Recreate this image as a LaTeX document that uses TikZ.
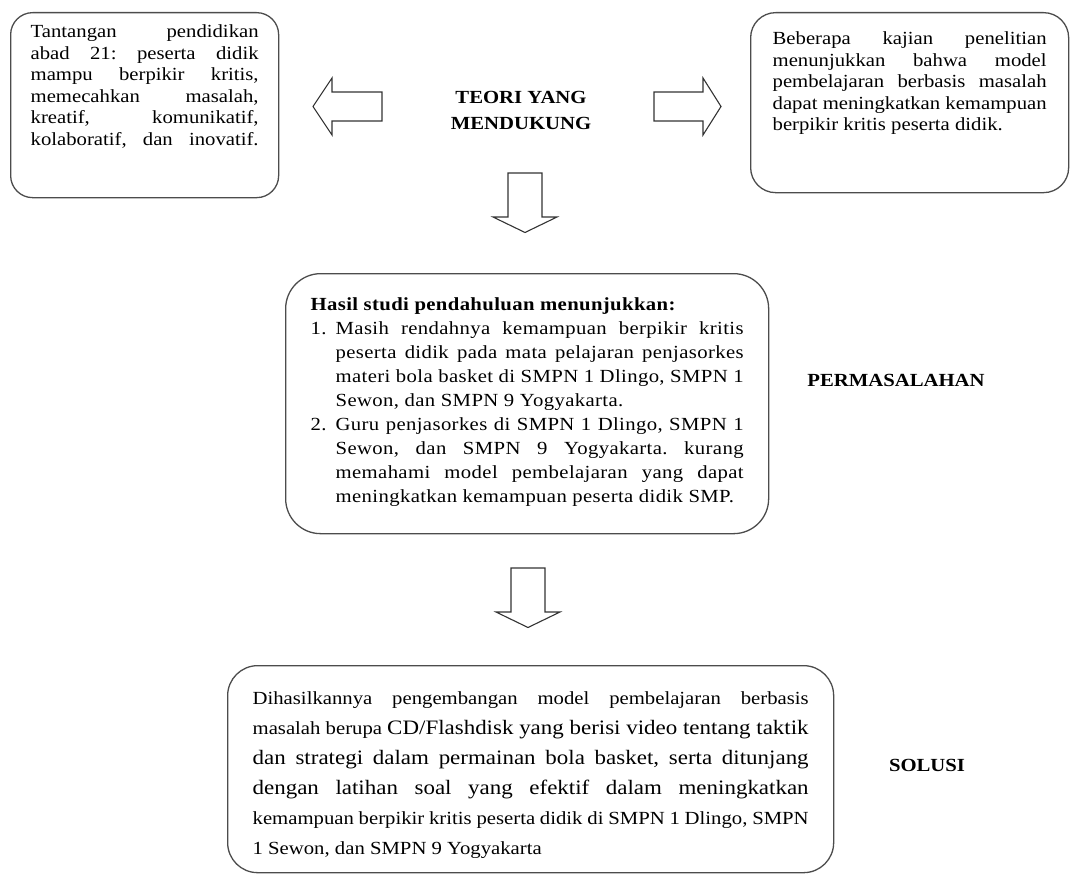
\documentclass[tikz,border=0pt]{standalone}
\usepackage{fontspec}
\setmainfont{Liberation Serif}[FakeStretch=1.12]
\frenchspacing
\hbadness=10000
\hfuzz=2pt
\newcommand{\besar}{\fontsize{20.5}{30}\selectfont}
\newcommand{\panahkiri}[2]{
	(#1, #2) --
	++(-50, 0) --
	++(0, -14) --
	++(-19, 28.5) --
	++(19, 28.5) --
	++(0, -14) --
	++(50, 0) --
	cycle
	}
\newcommand{\panahkanan}[2]{
	(#1, #2) --
	++(49, 0) --
	++(0, -14) --
	++(18, 28.5) --
	++(-18, 28.5) --
	++(0, -14) --
	++(-49, 0) --
	cycle
	}
\newcommand{\panahbawah}[2]{
	(#1, #2) --
	++(34, 0) --
	++(0, 44) --
	++(15, 0) --
	++(-32, 15.5) --
	++(-32, -15.5) --
	++(15, 0) --
	cycle
	}

\begin{document}
\begin{tikzpicture}[x=1pt, y=-1pt,
	kotak/.style={draw=black!70, line width=1.3pt, inner ysep=0pt, anchor=north west, align=justify},
	panah/.style={draw=black!80, line width=1.1pt, line join=miter},
	judul/.style={font=\bfseries\fontsize{18.5}{26}\selectfont, align=center}]

	\useasboundingbox (0,0) rectangle (1071,875);

	% kotak atas
	\node[kotak, rounded corners=22pt, inner xsep=20pt, text width=228pt, text height=25pt, text depth=160pt, font=\fontsize{18.5}{21.5}\selectfont] (tantangan) at (10,12)
	{\parfillskip=0pt Tantangan pendidikan\linebreak abad 21: peserta didik\linebreak mampu berpikir kritis,\linebreak memecahkan masalah,\linebreak kreatif, komunikatif,\linebreak kolaboratif, dan inovatif.\par};
	\node[kotak, rounded corners=25pt, inner xsep=22pt, text width=274pt, text height=32pt, text depth=148pt, font=\fontsize{18.5}{21.5}\selectfont] (kajian) at (750,12)
	{Beberapa kajian penelitian\linebreak menunjukkan bahwa model\linebreak pembelajaran berbasis masalah\linebreak dapat meningkatkan kemampuan\linebreak berpikir kritis peserta didik.\par};

	\node[judul] (teori) at (521,110) {TEORI YANG\\MENDUKUNG};

	\draw[panah] \panahkiri{382}{92};
	\draw[panah] \panahkanan{654}{92};
	\draw[panah] \panahbawah{508}{173};

	% permasalahan
	\node[kotak, rounded corners=35pt, inner xsep=25pt, text width=433pt, text height=37pt, text depth=223pt, font=\addfontfeature{LetterSpace=2}\fontsize{18.5}{24}\selectfont] (hasil) at (285,273)
	{\textbf{Hasil studi pendahuluan menunjukkan:}\par
	\hangindent=25pt\hangafter=1\noindent\makebox[25pt][l]{1.}Masih rendahnya kemampuan berpikir kritis\linebreak peserta didik pada mata pelajaran penjasorkes\linebreak materi bola basket di SMPN 1 Dlingo, SMPN 1\linebreak Sewon, dan SMPN 9 Yogyakarta.\par
	\hangindent=25pt\hangafter=1\noindent\makebox[25pt][l]{2.}Guru penjasorkes di SMPN 1 Dlingo, SMPN 1\linebreak Sewon, dan SMPN 9 Yogyakarta. kurang\linebreak memahami model pembelajaran yang dapat\linebreak meningkatkan kemampuan peserta didik SMP.\par};
	\node[judul] (masalah) at (896,380) {PERMASALAHAN};

	\draw[panah] \panahbawah{511}{568};

	% solusi
	\node[kotak, rounded corners=30pt, inner xsep=25pt, text width=556pt, text height=39pt, text depth=168pt, font=\fontsize{18.5}{30}\selectfont] (hasilkan) at (227,665)
	{Dihasilkannya pengembangan model pembelajaran berbasis\linebreak masalah berupa {\besar CD/Flashdisk yang berisi video tentang taktik\linebreak dan strategi dalam permainan bola basket, serta ditunjang\linebreak dengan latihan soal yang efektif dalam meningkatkan}\linebreak kemampuan berpikir kritis peserta didik di SMPN 1 Dlingo, SMPN\linebreak 1 Sewon, dan SMPN 9 Yogyakarta\par};
	\node[judul] (solusi) at (927,765) {SOLUSI};

\end{tikzpicture}
\end{document}
